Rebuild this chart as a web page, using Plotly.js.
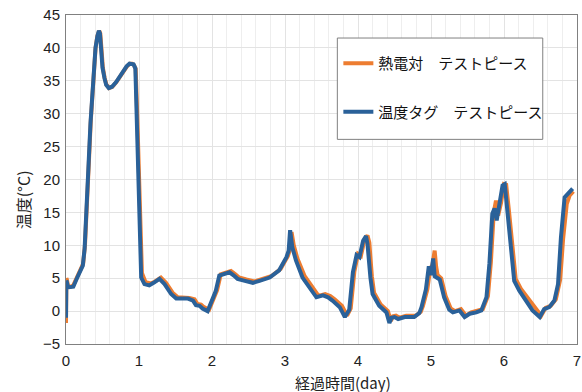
<!DOCTYPE html>
<html>
<head>
<meta charset="utf-8">
<script src="https://cdn.plot.ly/plotly-3.0.1.min.js"></script>
<style>html,body{margin:0;padding:0;background:#fff;}#chart{width:582px;height:392px;}</style>
</head>
<body>
<div id="chart"></div>
<script>
// 熱電対 テストピース (thermocouple)
const tcDays = [0, 0.005, 0.012, 0.03, 0.06, 0.1, 0.15, 0.2, 0.235, 0.26, 0.29, 0.315, 0.34, 0.37, 0.405, 0.43, 0.445, 0.455, 0.47, 0.485, 0.505, 0.53, 0.555, 0.59, 0.635, 0.69, 0.735, 0.78, 0.835, 0.875, 0.905, 0.93, 0.955, 0.975, 1.0, 1.02, 1.04, 1.09, 1.16, 1.22, 1.26, 1.3, 1.37, 1.46, 1.53, 1.62, 1.69, 1.76, 1.8, 1.85, 1.89, 1.96, 2.03, 2.07, 2.12, 2.19, 2.26, 2.32, 2.37, 2.47, 2.58, 2.67, 2.81, 2.94, 2.99, 3.04, 3.07, 3.09, 3.12, 3.17, 3.27, 3.37, 3.46, 3.55, 3.62, 3.68, 3.78, 3.85, 3.9, 3.95, 4.0, 4.04, 4.09, 4.13, 4.155, 4.19, 4.22, 4.31, 4.41, 4.45, 4.48, 4.52, 4.57, 4.66, 4.79, 4.86, 4.89, 4.95, 4.99, 5.02, 5.05, 5.07, 5.09, 5.14, 5.2, 5.27, 5.33, 5.41, 5.48, 5.55, 5.64, 5.71, 5.78, 5.82, 5.86, 5.89, 5.92, 5.96, 6.0, 6.03, 6.07, 6.12, 6.16, 6.23, 6.33, 6.42, 6.51, 6.57, 6.64, 6.71, 6.77, 6.81, 6.86, 6.9, 6.95];
const tcTemp = [-1.8, 5.0, 4.8, 3.7, 3.7, 3.9, 5.2, 6.5, 7.2, 10, 16, 23, 29, 34, 40, 41.8, 42.4, 42.6, 42.2, 40, 37, 35.4, 34.4, 33.9, 34.1, 34.8, 35.6, 36.4, 37.2, 37.6, 37.6, 37.4, 36.8, 30, 20, 10.5, 5.8, 4.4, 4.2, 4.5, 4.9, 5.1, 4.3, 2.8, 2.1, 2.1, 2.0, 1.8, 1.1, 1.0, 0.6, 0.2, 2.0, 3.2, 5.6, 5.9, 6.1, 5.6, 5.1, 4.8, 4.5, 4.8, 5.3, 6.4, 7.4, 8.4, 9.4, 12.0, 10.0, 8.0, 5.3, 3.8, 2.3, 2.6, 2.3, 1.8, 0.8, -0.7, 0.4, 6.0, 8.7, 8.4, 10.9, 11.5, 10.4, 5.3, 2.8, 1.0, 0.0, -1.5, -0.8, -0.7, -1.0, -0.7, -0.7, -0.1, 0.8, 3.3, 6.5, 7.0, 9.2, 6.8, 5.5, 5.0, 2.3, 0.4, 0.0, 0.3, -0.7, -0.2, 0.0, 0.3, 2.3, 7.4, 15.0, 16.8, 14.5, 16.5, 19.3, 19.2, 15.0, 9.0, 4.9, 3.4, 1.9, 0.4, -0.7, 0.5, 0.8, 1.8, 4.8, 11.0, 16.3, 17.6, 18.2];

// 温度タグ テストピース (temperature tag)
const tagDays = [0, 0.005, 0.01, 0.03, 0.06, 0.1, 0.15, 0.2, 0.23, 0.255, 0.285, 0.31, 0.335, 0.367, 0.404, 0.43, 0.44, 0.45, 0.465, 0.48, 0.5, 0.527, 0.55, 0.586, 0.63, 0.687, 0.73, 0.778, 0.83, 0.87, 0.9, 0.925, 0.95, 0.97, 0.997, 1.016, 1.03, 1.075, 1.14, 1.2, 1.24, 1.28, 1.35, 1.44, 1.51, 1.6, 1.67, 1.74, 1.78, 1.83, 1.87, 1.94, 2.01, 2.05, 2.1, 2.17, 2.24, 2.3, 2.35, 2.45, 2.56, 2.65, 2.79, 2.92, 2.97, 3.02, 3.05, 3.07, 3.1, 3.15, 3.24, 3.34, 3.43, 3.52, 3.59, 3.65, 3.75, 3.82, 3.88, 3.93, 3.98, 4.02, 4.07, 4.11, 4.13, 4.17, 4.2, 4.29, 4.39, 4.43, 4.46, 4.5, 4.55, 4.64, 4.77, 4.84, 4.87, 4.93, 4.97, 5.0, 5.03, 5.05, 5.07, 5.12, 5.18, 5.25, 5.3, 5.39, 5.46, 5.53, 5.62, 5.69, 5.76, 5.8, 5.84, 5.87, 5.9, 5.94, 5.98, 6.01, 6.05, 6.1, 6.14, 6.21, 6.3, 6.39, 6.49, 6.55, 6.62, 6.69, 6.74, 6.78, 6.83, 6.87, 6.92, 6.94];
const tagTemp = [-1.0, 4.6, 4.5, 3.6, 3.6, 3.7, 5.0, 6.3, 6.9, 9.5, 15.5, 22.5, 28.5, 33.9, 40, 41.8, 42.4, 42.6, 42.2, 40, 37, 35.4, 34.4, 33.9, 34.1, 34.8, 35.6, 36.4, 37.2, 37.6, 37.6, 37.5, 36.9, 29.8, 19.6, 10, 5.1, 4.1, 3.9, 4.3, 4.7, 4.9, 4.1, 2.6, 1.9, 1.9, 1.9, 1.6, 0.9, 0.8, 0.4, 0.0, 1.9, 3.0, 5.4, 5.7, 5.9, 5.4, 4.9, 4.6, 4.3, 4.6, 5.1, 6.2, 7.2, 8.2, 9.2, 12.3, 9.7, 7.7, 5.1, 3.6, 2.1, 2.4, 2.1, 1.6, 0.6, -0.9, 0.2, 5.9, 8.5, 8.2, 10.7, 11.4, 10.2, 5.1, 2.6, 0.8, -0.2, -1.8, -1.0, -0.9, -1.2, -0.9, -0.9, -0.3, 0.6, 3.3, 6.8, 5.5, 8.0, 5.3, 5.1, 4.8, 2.1, 0.2, -0.2, 0.1, -0.9, -0.4, -0.2, 0.1, 2.1, 7.2, 14.8, 15.6, 13.8, 16.3, 19.1, 19.3, 14.8, 8.7, 4.6, 3.1, 1.6, 0.1, -0.9, 0.3, 0.6, 1.6, 4.1, 11.2, 17.3, 17.8, 18.3, 18.6];

const seriesNames = ['熱電対\u3000テストピース', '温度タグ\u3000テストピース'];
const xTickVals = [0, 1, 2, 3, 4, 5, 6, 7];
const yTickVals = [-5, 0, 5, 10, 15, 20, 25, 30, 35, 40, 45];
const yTickText = ['\u22125', '0', '5', '10', '15', '20', '25', '30', '35', '40', '45'];
const xTitle = '経過時間(day)';
const yTitle = '温度(°C)';

const traces = [
  {x: tcDays, y: tcTemp, name: seriesNames[0], type: 'scatter', mode: 'lines',
   line: {color: '#ed7d31', width: 4}, legendgroup: 'a'},
  {x: tagDays, y: tagTemp, name: seriesNames[1], type: 'scatter', mode: 'lines',
   line: {color: '#2a6199', width: 4}, legendgroup: 'b'}
];

const fontFam = '"Noto Sans CJK JP", "Liberation Sans", Arial, sans-serif';
const numFont = {family: '"Liberation Sans", Arial, sans-serif', size: 15, color: '#222'};
const layout = {
  width: 582, height: 392,
  margin: {l: 66, r: 5, t: 15, b: 48, pad: 0},
  paper_bgcolor: '#ffffff', plot_bgcolor: '#ffffff',
  font: {family: fontFam, size: 14, color: '#222'},
  showlegend: true,
  legend: {
    x: 0.533, y: 0.903, xanchor: 'left', yanchor: 'top',
    borderwidth: 0, bgcolor: 'rgba(0,0,0,0)',
    font: {family: fontFam, size: 15, color: '#111'},
    traceorder: 'grouped', tracegroupgap: 26
  },
  shapes: [
    {type: 'rect', xref: 'paper', yref: 'paper', layer: 'above',
     x0: 0.531, x1: 0.933, y0: 0.622, y1: 0.93,
     line: {color: '#808080', width: 1}, fillcolor: '#ffffff'}
  ],
  annotations: [
    {text: xTitle, xref: 'paper', yref: 'paper', x: 0.543, y: -0.1157,
     xanchor: 'center', yanchor: 'middle', showarrow: false,
     font: {family: fontFam, size: 15, color: '#222'}},
    {text: yTitle, xref: 'paper', yref: 'paper', x: -0.084, y: 0.437,
     xanchor: 'center', yanchor: 'middle', showarrow: false, textangle: -90,
     font: {family: fontFam, size: 16, color: '#222'}}
  ],
  xaxis: {
    range: [0, 7], tickvals: xTickVals, ticktext: xTickVals.map(String),
    showgrid: true, gridcolor: '#e3e3e3', gridwidth: 1,
    minor: {dtick: 0.2, showgrid: true, gridcolor: '#eeeeee', gridwidth: 1},
    showline: true, linecolor: '#808080', linewidth: 1, mirror: true,
    zeroline: false, ticks: 'outside', ticklen: 3, tickcolor: 'rgba(0,0,0,0)',
    tickfont: numFont
  },
  yaxis: {
    range: [-5, 45], tickvals: yTickVals, ticktext: yTickText,
    showgrid: true, gridcolor: '#e3e3e3', gridwidth: 1,
    showline: true, linecolor: '#808080', linewidth: 1, mirror: true,
    zeroline: false, ticks: 'outside', ticklen: 2, tickcolor: 'rgba(0,0,0,0)',
    tickfont: numFont
  }
};

Plotly.newPlot('chart', traces, layout, {staticPlot: true, displayModeBar: false});
</script>
</body>
</html>
